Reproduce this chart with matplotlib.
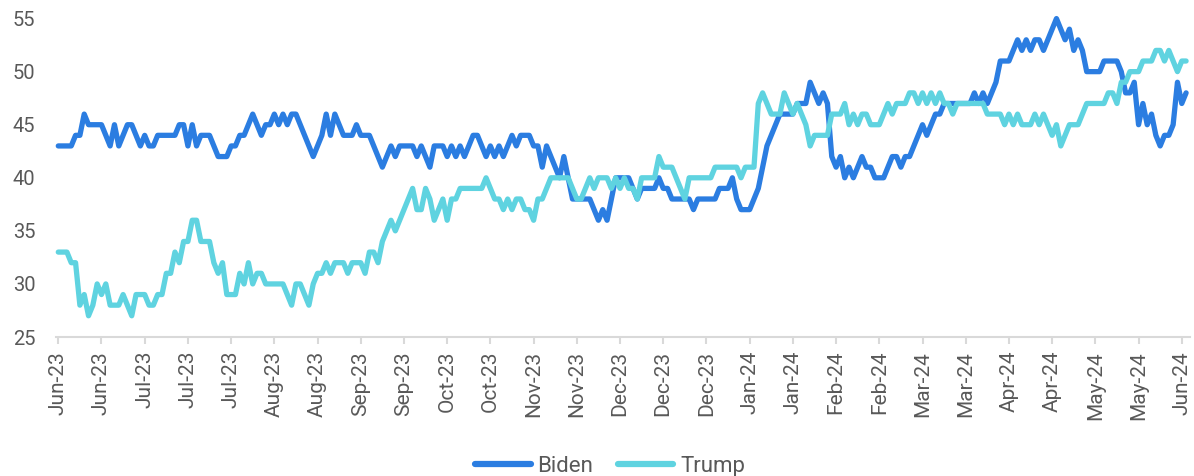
import matplotlib
matplotlib.use("Agg")
import matplotlib.pyplot as plt
import numpy as np

plt.rcParams['font.family'] = ['Roboto', 'DejaVu Sans']

tick_labels = ["Jun-23", "Jun-23", "Jul-23", "Jul-23", "Jul-23", "Aug-23", "Aug-23",
               "Sep-23", "Sep-23", "Oct-23", "Oct-23", "Nov-23", "Nov-23", "Dec-23",
               "Dec-23", "Dec-23", "Jan-24", "Jan-24", "Feb-24", "Feb-24", "Mar-24",
               "Mar-24", "Apr-24", "Apr-24", "May-24", "May-24", "Jun-24"]

biden = [
    43, 43, 43, 43, 44, 44, 46, 45, 45, 45,
    45, 44, 43, 45, 43, 44, 45, 45, 44, 43,
    44, 43, 43, 44, 44, 44, 44, 44, 45, 45,
    43, 45, 43, 44, 44, 44, 43, 42, 42, 42,
    43, 43, 44, 44, 45, 46, 45, 44, 45, 45,
    46, 45, 46, 45, 46, 46, 45, 44, 43, 42,
    43, 44, 46, 44, 46, 45, 44, 44, 44, 45,
    44, 44, 44, 43, 42, 41, 42, 43, 42, 43,
    43, 43, 43, 42, 43, 42, 41, 43, 43, 43,
    42, 43, 42, 43, 42, 43, 44, 44, 43, 42,
    43, 42, 43, 42, 43, 44, 43, 44, 44, 44,
    43, 43, 41, 43, 42, 41, 40, 42, 40, 38,
    38, 38, 38, 38, 37, 36, 37, 36, 38, 40,
    40, 40, 40, 39, 38, 39, 39, 39, 39, 40,
    39, 39, 38, 38, 38, 38, 38, 37, 38, 38,
    38, 38, 38, 39, 39, 39, 40, 38, 37, 37,
    37, 38, 39, 41, 43, 44, 45, 46, 46, 46,
    46, 47, 47, 47, 49, 48, 47, 48, 47, 42,
    41, 42, 40, 41, 40, 41, 42, 41, 41, 40,
    40, 40, 41, 42, 42, 41, 42, 42, 43, 44,
    45, 44, 45, 46, 46, 47, 47, 47, 47, 47,
    47, 47, 48, 47, 48, 47, 48, 49, 51, 51,
    51, 52, 53, 52, 53, 52, 53, 53, 52, 53,
    54, 55, 54, 53, 54, 52, 53, 52, 50, 50,
    50, 50, 51, 51, 51, 51, 50, 48, 48, 49,
    45, 47, 45, 46, 44, 43, 44, 44, 45, 49, 47, 48,
]

trump = [
    33, 33, 33, 32, 32, 28, 29, 27, 28, 30,
    29, 30, 28, 28, 28, 29, 28, 27, 29, 29,
    29, 28, 28, 29, 29, 31, 31, 33, 32, 34,
    34, 36, 36, 34, 34, 34, 32, 31, 32, 29,
    29, 29, 31, 30, 32, 30, 31, 31, 30, 30,
    30, 30, 30, 29, 28, 30, 30, 29, 28, 30,
    31, 31, 32, 31, 32, 32, 32, 31, 32, 32,
    32, 31, 33, 33, 32, 34, 35, 36, 35, 36,
    37, 38, 39, 37, 37, 39, 38, 36, 37, 38,
    36, 38, 38, 39, 39, 39, 39, 39, 39, 40,
    39, 38, 38, 37, 38, 37, 38, 38, 37, 37,
    36, 38, 38, 39, 40, 40, 40, 40, 40, 39,
    38, 38, 39, 40, 39, 40, 40, 40, 39, 40,
    39, 40, 39, 39, 38, 40, 40, 40, 40, 42,
    41, 41, 41, 40, 39, 38, 40, 40, 40, 40,
    40, 40, 41, 41, 41, 41, 41, 41, 40, 41,
    41, 41, 47, 48, 47, 46, 46, 46, 48, 47,
    46, 47, 46, 45, 43, 44, 44, 44, 44, 46,
    46, 46, 47, 45, 46, 45, 46, 46, 45, 45,
    45, 46, 47, 46, 47, 47, 47, 48, 48, 47,
    48, 47, 48, 47, 48, 47, 47, 46, 47, 47,
    47, 47, 47, 47, 47, 46, 46, 46, 46, 45,
    46, 45, 46, 45, 45, 45, 46, 45, 46, 45,
    44, 45, 43, 44, 45, 45, 45, 46, 47, 47,
    47, 47, 47, 48, 48, 47, 49, 49, 50, 50,
    50, 51, 51, 51, 52, 52, 51, 52, 51, 50, 51, 51,
]

x = np.arange(len(biden))
tick_step = 10
tick_pos = np.arange(len(tick_labels)) * tick_step

fig = plt.figure(figsize=(11.94, 4.76), dpi=100)
ax = fig.add_axes([0.047, 0.292, 0.950, 0.669])

BLUE = "#2B7DE1"
CYAN = "#5FD3E0"
ax.plot(x, biden, color=BLUE, lw=3.8, solid_joinstyle='round', solid_capstyle='round',
        label="Biden", clip_on=False)
ax.plot(x, trump, color=CYAN, lw=3.8, solid_joinstyle='round', solid_capstyle='round',
        label="Trump", clip_on=False)

ax.set_ylim(25, 55)
ax.set_yticks([25, 30, 35, 40, 45, 50, 55])
ax.set_xlim(-0.5, 262)
ax.set_xticks(tick_pos)
ax.set_xticklabels(tick_labels, rotation=90)

for s in ['top', 'right', 'left']:
    ax.spines[s].set_visible(False)
ax.spines['bottom'].set_color('#d9d9d9')
ax.spines['bottom'].set_linewidth(1.5)

ax.tick_params(axis='x', direction='out', length=5, width=1.5, color='#d9d9d9',
               labelsize=15, labelcolor='#595959', pad=5)
ax.tick_params(axis='y', length=0, labelsize=14.5, labelcolor='#595959', pad=15)

leg = fig.legend(loc='center', bbox_to_anchor=(0.511, 0.021), ncol=2, frameon=False,
                 fontsize=16, handlelength=2.5, handletextpad=0.3, columnspacing=1.1,
                 labelcolor='#595959')
for h in leg.get_lines():
    h.set_linewidth(4.5)
    h.set_solid_capstyle('round')

fig.savefig("out.png", dpi=100)
